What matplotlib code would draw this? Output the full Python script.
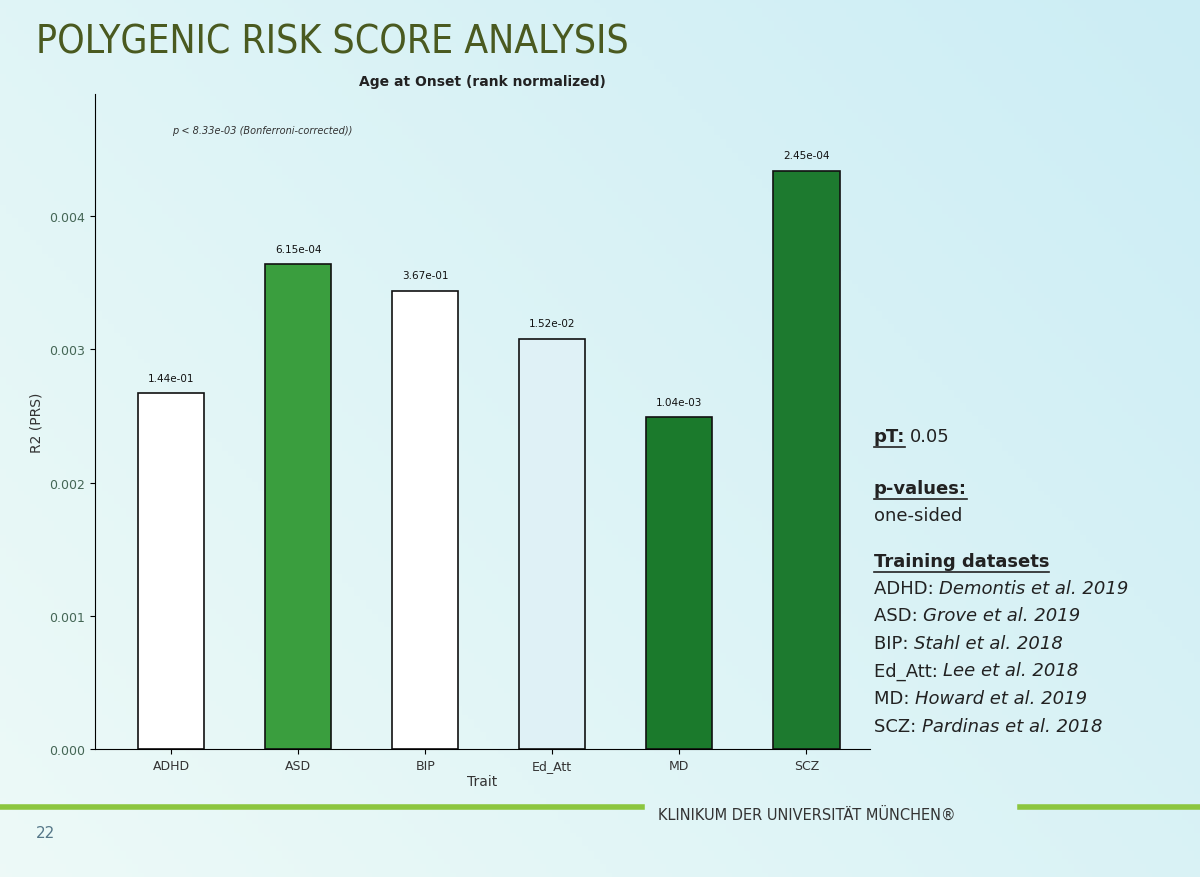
import matplotlib
matplotlib.use("Agg")
import matplotlib.pyplot as plt
import numpy as np

traits = ["ADHD", "ASD", "BIP", "Ed_Att", "MD", "SCZ"]
r2 = [0.00267, 0.00364, 0.00344, 0.00308, 0.00249, 0.00434]
pvals = ["1.44e-01", "6.15e-04", "3.67e-01", "1.52e-02", "1.04e-03", "2.45e-04"]
colors = ["#ffffff", "#3a9e3e", "#ffffff", "#dff1f6", "#1b7a2c", "#1d7a2f"]
yticks = [0.000, 0.001, 0.002, 0.003, 0.004]
refs = [("ADHD: ", "Demontis et al. 2019"), ("ASD: ", "Grove et al. 2019"),
        ("BIP: ", "Stahl et al. 2018"), ("Ed_Att: ", "Lee et al. 2018"),
        ("MD: ", "Howard et al. 2019"), ("SCZ: ", "Pardinas et al. 2018")]

fig = plt.figure(figsize=(12, 8.78), dpi=100)
bg = fig.add_axes([0, 0, 1, 1])
gx = np.linspace(0, 1, 200)
gy = np.linspace(0, 1, 200)
X, Y = np.meshgrid(gx, gy)
t = np.clip(0.6 * X + 0.4 * (1 - Y), 0, 1)
c1 = np.array([0.93, 0.98, 0.97]); c2 = np.array([0.80, 0.93, 0.96])
img = c1[None, None, :] * (1 - t[..., None]) + c2[None, None, :] * t[..., None]
bg.imshow(img, extent=[0, 1, 0, 1], aspect="auto", origin="upper")
bg.set_xlim(0, 1); bg.set_ylim(0, 1); bg.axis("off")
bg.text(0.03, 0.952, "POLYGENIC RISK SCORE ANALYSIS", fontsize=28, color="#4a5a20",
        va="center", ha="left", family="DejaVu Sans", stretch="condensed")
bg.plot([0.0, 0.535], [0.080, 0.080], color="#8cc63f", lw=4)
bg.plot([0.85, 1.0], [0.080, 0.080], color="#8cc63f", lw=4)
bg.text(0.548, 0.071, "KLINIKUM DER UNIVERSITÄT MÜNCHEN®", fontsize=10.5, color="#333333", va="center")
bg.text(0.03, 0.045, "22", fontsize=11, color="#557788")

def line(x, y, parts):
    cur = x
    for txt, kw in parts:
        tt = bg.text(cur, y, txt, fontsize=13, color="#222222", **kw)
        fig.canvas.draw()
        bb = tt.get_window_extent().transformed(bg.transData.inverted())
        if kw.get("weight") == "bold":
            bg.plot([bb.x0, bb.x1], [y - 0.007, y - 0.007], color="#222222", lw=1.2)
        cur = bb.x1 + 0.004

line(0.728, 0.497, [("pT:", {"weight": "bold"}), ("0.05", {})])
line(0.728, 0.437, [("p-values:", {"weight": "bold"})])
bg.text(0.728, 0.407, "one-sided", fontsize=13, color="#222222")
line(0.728, 0.354, [("Training datasets", {"weight": "bold"})])
for i, (a, b) in enumerate(refs):
    y = 0.324 - i * 0.0315
    ta = bg.text(0.728, y, a, fontsize=13, color="#222222")
    fig.canvas.draw()
    bb = ta.get_window_extent().transformed(bg.transData.inverted())
    bg.text(bb.x1, y, b, fontsize=13, color="#222222", style="italic")

ax = fig.add_axes([0.079, 0.146, 0.646, 0.746])
ax.patch.set_alpha(0)
x = np.arange(len(traits))
ax.bar(x, r2, width=0.52, color=colors, edgecolor="#111111", linewidth=1.2)
for xi, v, p in zip(x, r2, pvals):
    ax.text(xi, v + 0.00008, p, ha="center", va="bottom", fontsize=7.5, color="#111111")
ax.set_ylim(0, 0.00492)
ax.set_xlim(-0.6, 5.5)
ax.set_yticks(yticks)
ax.set_yticklabels([f"{v:.3f}" for v in yticks], fontsize=9, color="#446655")
ax.set_xticks(x)
ax.set_xticklabels(traits, fontsize=9, color="#333333")
ax.set_xlabel("Trait", fontsize=10, color="#333333", labelpad=2)
ax.set_ylabel("R2 (PRS)", fontsize=10, color="#333333")
ax.set_title("Age at Onset (rank normalized)", fontsize=10, weight="bold", color="#222222", pad=6)
ax.text(0.1, 0.94, "p < 8.33e-03 (Bonferroni-corrected))", transform=ax.transAxes,
        fontsize=7, style="italic", color="#333333")
for s in ["top", "right"]:
    ax.spines[s].set_visible(False)
fig.savefig("out.png", dpi=100)
